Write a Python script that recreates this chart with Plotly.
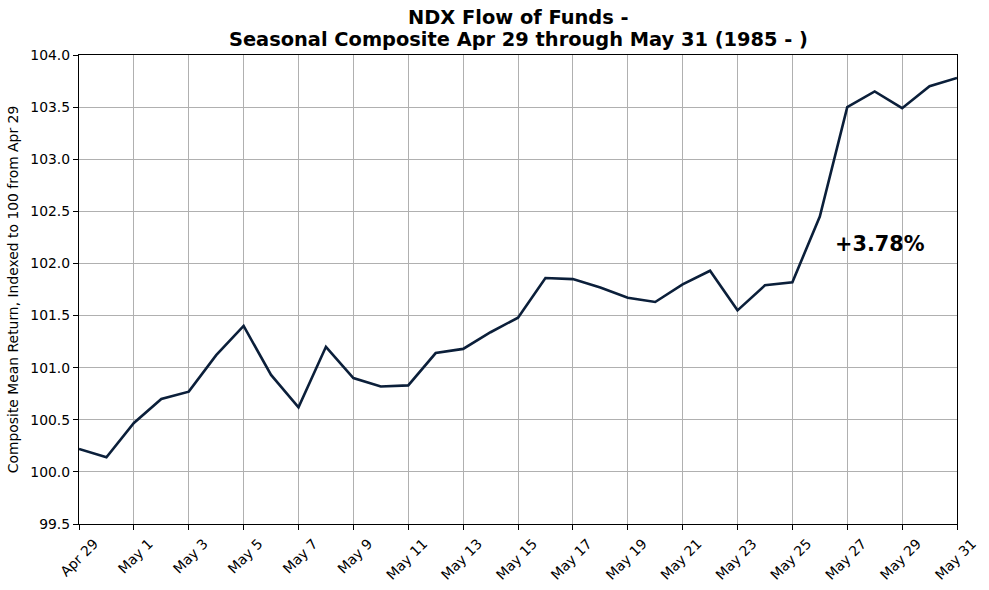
import plotly.graph_objects as go
import pandas as pd

dates = pd.date_range("2024-04-29", "2024-05-31", freq="D")
values = [100.22, 100.14, 100.47, 100.70, 100.77, 101.12, 101.40, 100.93, 100.62, 101.20,
          100.90, 100.82, 100.83, 101.14, 101.18, 101.34, 101.48, 101.86, 101.85, 101.77,
          101.67, 101.63, 101.80, 101.93, 101.55, 101.79, 101.82, 102.45, 103.50, 103.65,
          103.49, 103.70, 103.78]
tick_dates = dates[::2]
tick_labels = [d.strftime("%b ") + str(d.day) for d in tick_dates]
y_ticks = [99.5, 100.0, 100.5, 101.0, 101.5, 102.0, 102.5, 103.0, 103.5, 104.0]
title_lines = ["NDX Flow of Funds -", "Seasonal Composite Apr 29 through May 31 (1985 - )"]
y_label = "Composite Mean Return, Indexed to 100 from Apr 29"
change_label = "+3.78%"

FONT = "DejaVu Sans"
PLOT_TOP, PLOT_BOTTOM = 55, 524
PLOT_H = PLOT_BOTTOM - PLOT_TOP

fig = go.Figure()
fig.add_trace(go.Scatter(x=dates, y=values, mode="lines",
                         line=dict(color="#0b1f3a", width=2.6), showlegend=False,
                         hoverinfo="skip"))

fig.add_annotation(x=pd.Timestamp("2024-05-28 05:00"), y=102.19, text="<b>%s</b>" % change_label,
                   showarrow=False, xanchor="center", yanchor="middle",
                   font=dict(family=FONT, size=20.8, color="black"))

for line, yc in zip(title_lines, [18, 40]):
    fig.add_annotation(xref="paper", yref="paper", x=0.5, y=1 + (PLOT_TOP - yc) / PLOT_H,
                       text="<b>%s</b>" % line, showarrow=False,
                       xanchor="center", yanchor="middle",
                       font=dict(family=FONT, size=19.4, color="black"))

fig.update_layout(
    width=989, height=590,
    margin=dict(l=79, r=32, t=PLOT_TOP, b=590 - PLOT_BOTTOM, autoexpand=False),
    paper_bgcolor="white", plot_bgcolor="white",
    font=dict(family=FONT, size=13.9, color="black"),
    xaxis=dict(range=[dates[0], dates[-1]], tickvals=list(tick_dates), ticktext=tick_labels,
               tickangle=-45, ticklabelshift=15, ticklabelstandoff=0,
               showgrid=True, gridcolor="#b0b0b0", gridwidth=1,
               showline=True, linecolor="black", linewidth=1.2, mirror=True,
               ticks="outside", ticklen=5, tickcolor="black", zeroline=False,
               automargin=False, tickfont=dict(family=FONT, size=13.9)),
    yaxis=dict(range=[99.5, 104.0], tickvals=y_ticks, ticktext=["%.1f" % v for v in y_ticks],
               showgrid=True, gridcolor="#b0b0b0", gridwidth=1,
               showline=True, linecolor="black", linewidth=1.2, mirror=True,
               ticks="outside", ticklen=5, tickcolor="black", zeroline=False,
               automargin=False,
               title=dict(text=y_label, font=dict(family=FONT, size=13.9), standoff=8),
               tickfont=dict(family=FONT, size=13.9)),
)

fig.write_html("out.html")
